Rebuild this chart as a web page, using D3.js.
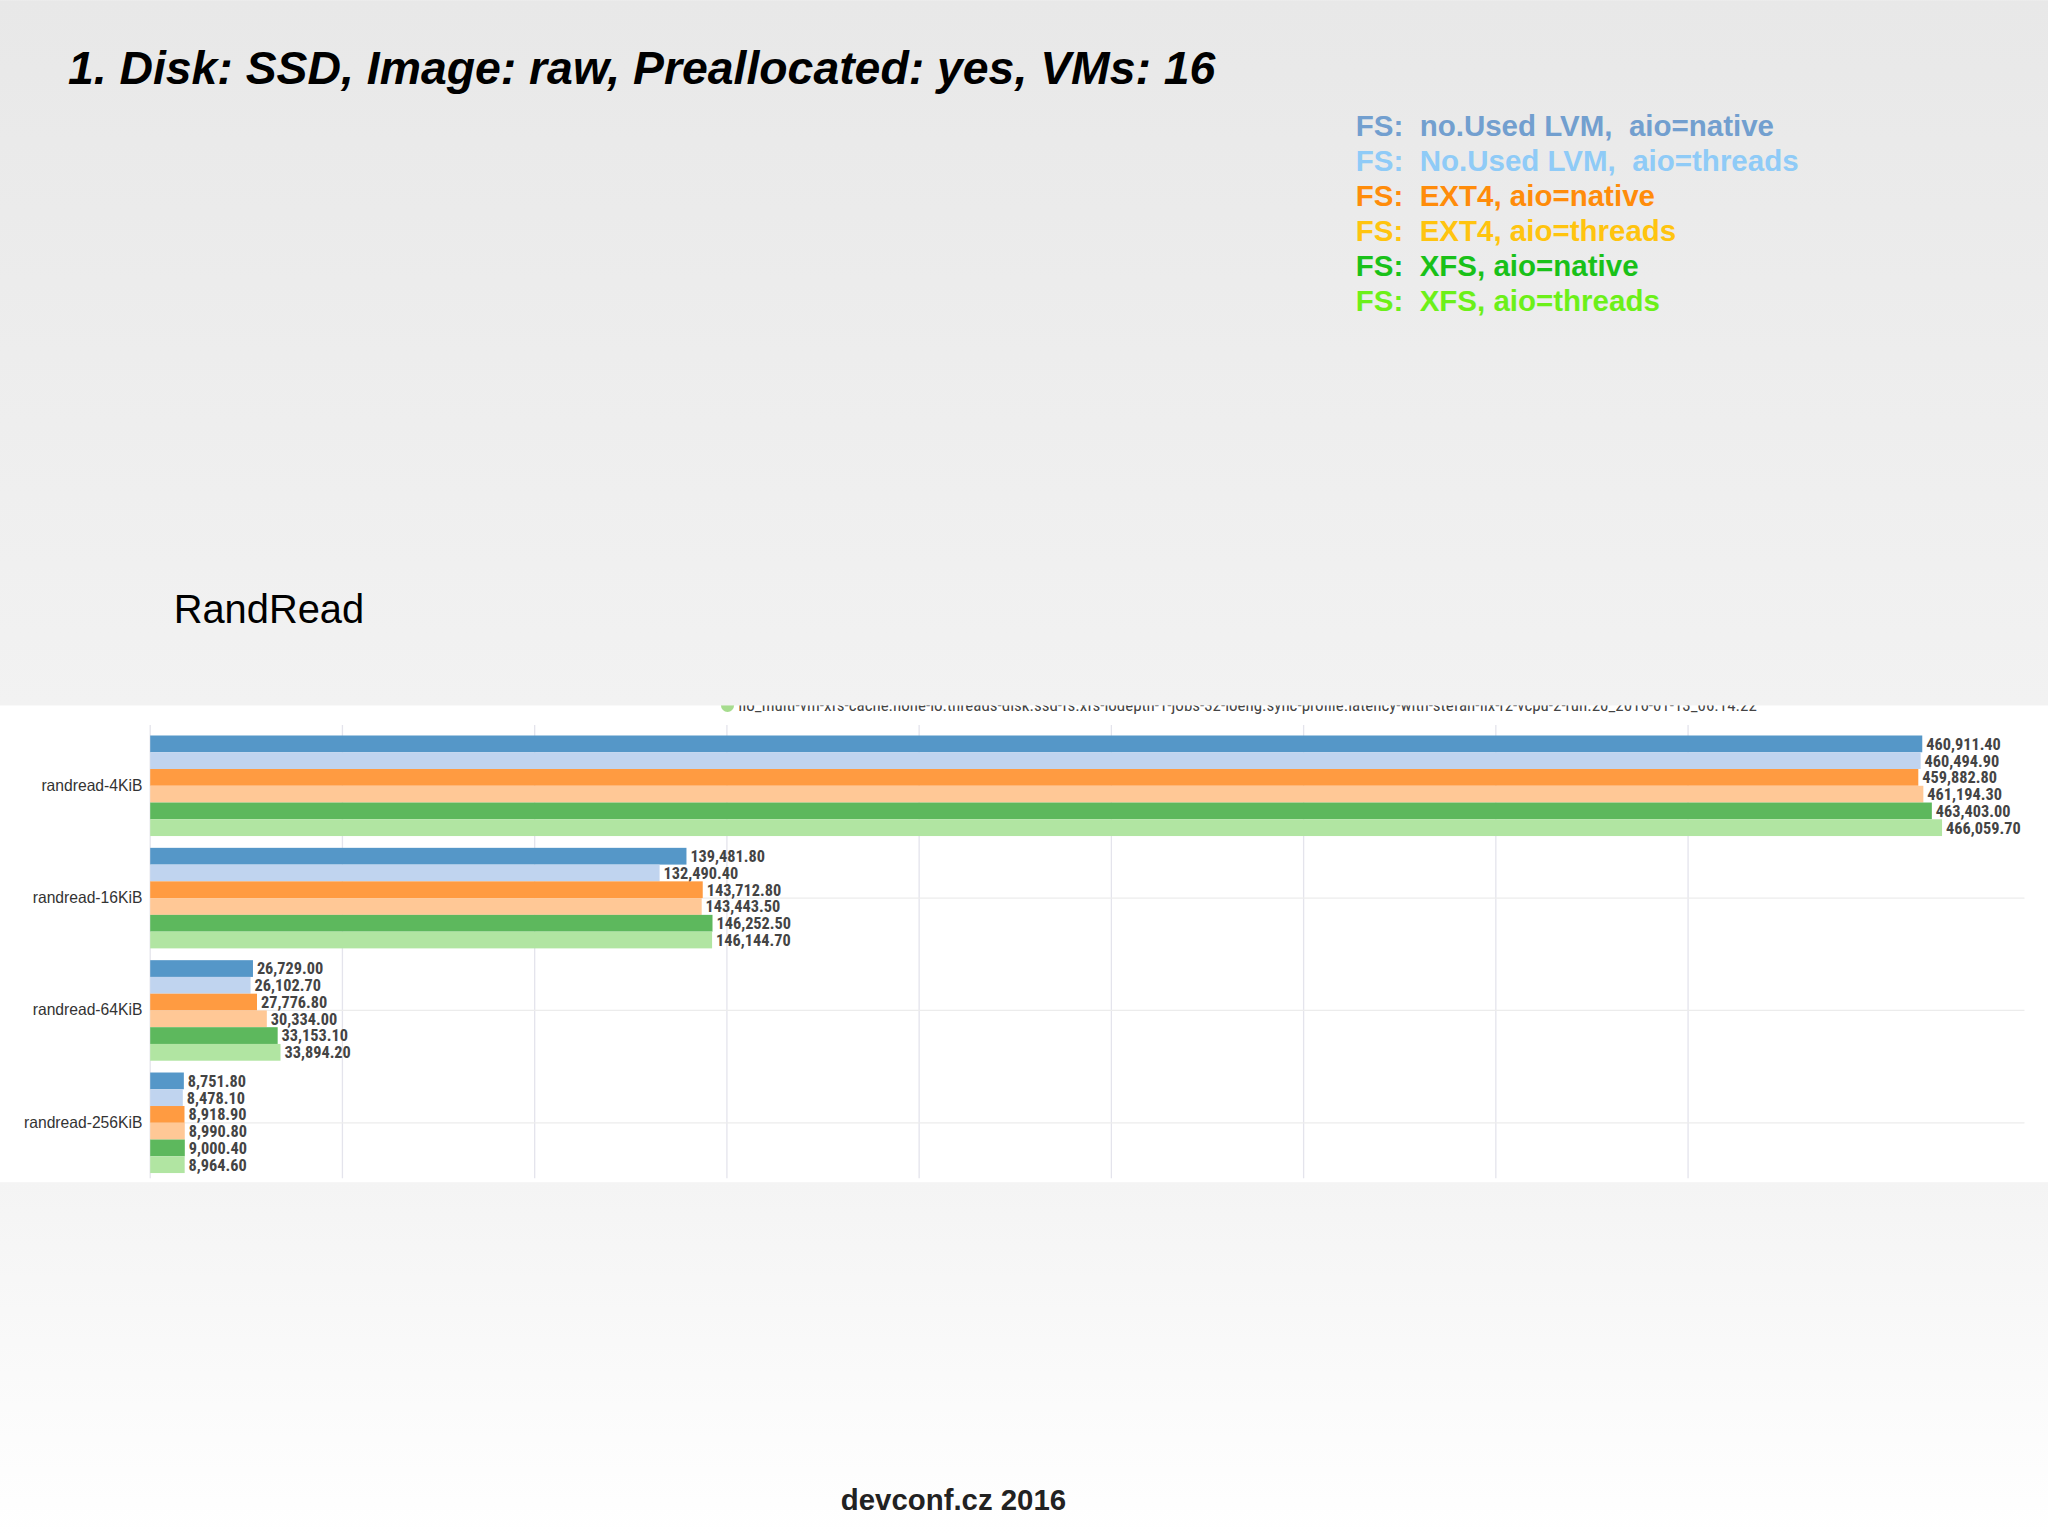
<!DOCTYPE html>
<html><head><meta charset="utf-8">
<script src="https://cdn.jsdelivr.net/npm/d3@7"></script>
<style>body{margin:0;background:#fff}</style></head>
<body><svg id="c" width="2048" height="1535" viewBox="0 0 1568 1175"></svg>
<script>
const categories = ["randread-4KiB","randread-16KiB","randread-64KiB","randread-256KiB"];
const seriesNames = ["noLVM-native","noLVM-threads","ext4-native","ext4-threads","xfs-native","xfs-threads"];
const s0 = [460911.40,139481.80,26729.00,8751.80];
const s1 = [460494.90,132490.40,26102.70,8478.10];
const s2 = [459882.80,143712.80,27776.80,8918.90];
const s3 = [461194.30,143443.50,30334.00,8990.80];
const s4 = [463403.00,146252.50,33153.10,9000.40];
const s5 = [466059.70,146144.70,33894.20,8964.60];
const series = [s0,s1,s2,s3,s4,s5];
const barColors = ["#5597c8","#c0d4ef","#ff9b41","#ffc896","#5db85d","#b1e5a2"];
const legendTexts = ["FS: \u00a0no.Used LVM, \u00a0aio=native","FS: \u00a0No.Used LVM, \u00a0aio=threads","FS: \u00a0EXT4, aio=native","FS: \u00a0EXT4, aio=threads","FS: \u00a0XFS, aio=native","FS: \u00a0XFS, aio=threads"];
const legendColors = ["#729fcf","#8fcbf7","#ff8c0a","#ffc40f","#19c119","#6cf019"];

const svg = d3.select("#c");
const defs = svg.append("defs");
const g1 = defs.append("linearGradient").attr("id","top").attr("x1",0).attr("y1",0).attr("x2",0).attr("y2",1);
g1.append("stop").attr("offset",0).attr("stop-color","#e8e8e8");
g1.append("stop").attr("offset",1).attr("stop-color","#f2f2f2");
const g2 = defs.append("linearGradient").attr("id","bot").attr("x1",0).attr("y1",0).attr("x2",0).attr("y2",1);
g2.append("stop").attr("offset",0).attr("stop-color","#f4f4f4");
g2.append("stop").attr("offset",1).attr("stop-color","#ffffff");
svg.append("rect").attr("x",0).attr("y",905).attr("width",1568).attr("height",270).attr("fill","url(#bot)");

const x = d3.scaleLinear().domain([0,487500]).range([115,1550]);
const y = d3.scaleBand().domain(categories).range([563,898]).paddingInner(0.105).paddingOuter(0);
const yi = d3.scaleBand().domain(d3.range(6)).range([0,y.bandwidth()]);

const chart = svg.append("g").attr("font-family","'Liberation Sans Narrow','Roboto Condensed',Arial,sans-serif");
chart.append("g").selectAll("line").data(d3.range(0,450000,50000)).join("line")
 .attr("x1",d=>x(d)).attr("x2",d=>x(d)).attr("y1",555).attr("y2",902).attr("stroke","#e4e4ec");
chart.append("g").selectAll("line").data(categories.slice(1)).join("line")
 .attr("x1",115).attr("x2",1550).attr("y1",d=>y(d)+y.bandwidth()/2).attr("y2",d=>y(d)+y.bandwidth()/2).attr("stroke","#ececec");
const axis = d3.axisLeft(y).tickSize(0).tickPadding(6);
const ag = chart.append("g").attr("transform","translate(115,0)").call(axis);
ag.select(".domain").remove();
ag.selectAll("text").attr("font-size",12).attr("fill","#333").attr("font-family","'Liberation Sans',Arial,sans-serif");

series.forEach((s,i)=>{
  const gg = chart.append("g");
  gg.selectAll("rect").data(s).join("rect")
   .attr("x",x(0)).attr("y",(d,j)=>y(categories[j])+yi(i)).attr("width",d=>x(d)-x(0)).attr("height",yi.bandwidth()).attr("fill",barColors[i]);
  gg.selectAll("text").data(s).join("text")
   .attr("x",d=>x(d)+3).attr("y",(d,j)=>y(categories[j])+yi(i)+yi.bandwidth()/2+4.5)
   .attr("font-size",12.5).attr("font-weight","bold").attr("fill","#444")
   .text(d=>d3.format(",.2f")(d));
});
chart.append("circle").attr("cx",557).attr("cy",540).attr("r",5).attr("fill","#a6dc8e");
chart.append("text").attr("x",565).attr("y",544).attr("font-size",13).attr("fill","#444")
 .text("fio_multi-vm-xfs-cache.none-io.threads-disk.ssd-fs.xfs-iodepth-1-jobs-32-ioeng.sync-profile.latency-with-stefan-fix-r2-vcpu-2-run.20_2016-01-13_06.14.22");

svg.append("rect").attr("x",0).attr("y",0).attr("width",1568).attr("height",540).attr("fill","url(#top)");
svg.append("text").attr("x",52).attr("y",64).attr("font-family","'Liberation Sans',Arial,sans-serif").attr("font-size",35.5).attr("font-weight","bold").attr("font-style","italic").attr("fill","#000")
 .text("1. Disk: SSD, Image: raw, Preallocated: yes, VMs: 16");
svg.append("g").selectAll("text").data(legendTexts).join("text")
 .attr("x",1038).attr("y",(d,i)=>104+i*26.8).attr("font-family","'Liberation Sans',Arial,sans-serif").attr("font-size",22.6).attr("font-weight","bold")
 .attr("fill",(d,i)=>legendColors[i]).text(d=>d);
svg.append("text").attr("x",133).attr("y",477).attr("font-family","'Liberation Sans',Arial,sans-serif").attr("font-size",30.5).attr("fill","#000").text("RandRead");
svg.append("text").attr("x",730).attr("y",1156).attr("text-anchor","middle").attr("font-family","'Liberation Sans',Arial,sans-serif").attr("font-size",22.5).attr("font-weight","bold").attr("fill","#222").text("devconf.cz 2016");
</script></body></html>
